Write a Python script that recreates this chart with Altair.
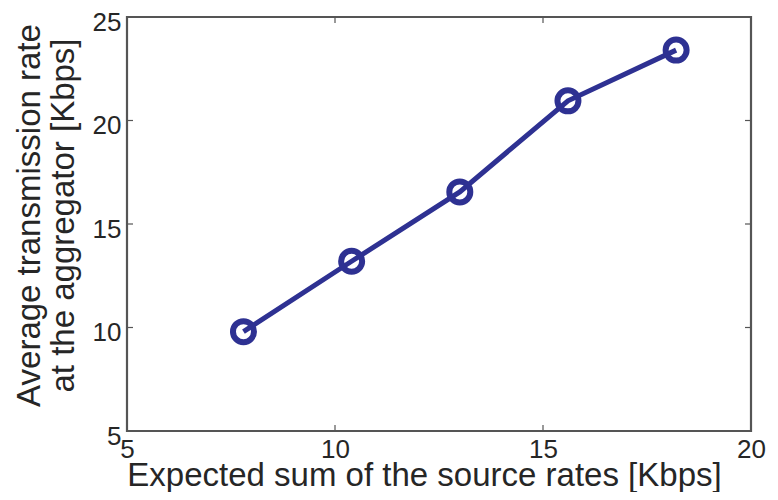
import altair as alt
import pandas as pd

# data
source_rate = [7.8, 10.4, 13.0, 15.6, 18.2]
trans_rate = [9.8, 13.2, 16.55, 20.95, 23.4]
x_ticks = [5, 10, 15, 20]
y_ticks = [5, 10, 15, 20, 25]

W, H = 624, 414
TICK = 6
FONT = "Liberation Sans"
TXT = "#262626"
FRAME = "#555555"
NAVY = "#2e3192"

df = pd.DataFrame({"x": source_rate, "y": trans_rate})
xt = pd.DataFrame({"x": x_ticks})
yt = pd.DataFrame({"y": y_ticks})

xs = alt.Scale(domain=[5, 20], nice=False, zero=False)
ys = alt.Scale(domain=[5, 25], nice=False, zero=False)

xaxis = alt.Axis(values=x_ticks, ticks=False, domain=False, grid=False,
                 labelFontSize=26, labelPadding=5, labelColor=TXT, labelFont=FONT,
                 title="Expected sum of the source rates [Kbps]", titleFontSize=33,
                 titleFont=FONT, titleColor=TXT, titleFontWeight="normal",
                 titleBaseline="alphabetic", titleY=54, titleX=297,
                 labelFlush=False)
yaxis = alt.Axis(values=y_ticks, ticks=False, domain=False, grid=False,
                 labelFontSize=26, labelPadding=6, labelColor=TXT, labelFont=FONT,
                 labelOffset=5,
                 title=["Average transmission rate", "at the aggregator [Kbps]"],
                 titleFontSize=33, titleFont=FONT, titleColor=TXT,
                 titleFontWeight="normal", titlePadding=12, titleLineHeight=34,
                 titleY=198, labelFlush=False)

line = alt.Chart(df).mark_line(color=NAVY, strokeWidth=5).encode(
    x=alt.X("x:Q", scale=xs, axis=xaxis),
    y=alt.Y("y:Q", scale=ys, axis=yaxis),
)
pts = alt.Chart(df).mark_point(shape="circle", filled=False, color=NAVY,
                               strokeWidth=6, size=441, opacity=1).encode(
    x=alt.X("x:Q", scale=xs), y=alt.Y("y:Q", scale=ys))

tick_style = dict(color=FRAME, strokeWidth=1.2)
xb = alt.Chart(xt).mark_rule(**tick_style).encode(
    x=alt.X("x:Q", scale=xs), y=alt.value(H), y2=alt.value(H - TICK))
xtp = alt.Chart(xt).mark_rule(**tick_style).encode(
    x=alt.X("x:Q", scale=xs), y=alt.value(0), y2=alt.value(TICK))
yl = alt.Chart(yt).mark_rule(**tick_style).encode(
    y=alt.Y("y:Q", scale=ys), x=alt.value(0), x2=alt.value(TICK))
yr = alt.Chart(yt).mark_rule(**tick_style).encode(
    y=alt.Y("y:Q", scale=ys), x=alt.value(W), x2=alt.value(W - TICK))

chart = alt.layer(xb, xtp, yl, yr, line, pts).properties(
    width=W, height=H,
    autosize=alt.AutoSizeParams(type="none"),
    padding={"left": 119, "top": 9, "right": 19, "bottom": 61},
    background="white",
).configure_view(stroke=FRAME, strokeWidth=2.2)

chart.save("out.html", embed_options={"renderer": "svg", "actions": False})
